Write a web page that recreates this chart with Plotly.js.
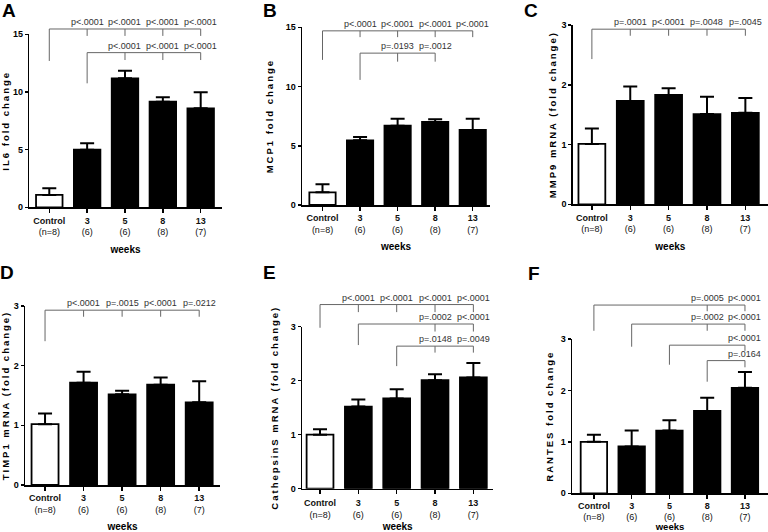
<!DOCTYPE html>
<html><head><meta charset="utf-8">
<script src="https://cdn.plot.ly/plotly-3.0.1.min.js"></script>
<style>
html,body{margin:0;padding:0;background:#fff}
#chart{width:768px;height:532px}
text[class^="y"][class$="title"]{letter-spacing:2px}
</style></head><body><div id="chart"></div><script>
// ---------- data ----------
const categories = ['Control', '3', '5', '8', '13'];
const groupN = ['(n=8)', '(6)', '(6)', '(8)', '(7)'];

const il6Mean = [1.07, 5.0, 11.18, 9.16, 8.58];
const il6Err  = [0.58, 0.55, 0.67, 0.38, 1.39];
const mcp1Mean = [1.07, 5.46, 6.70, 7.01, 6.34];
const mcp1Err  = [0.68, 0.29, 0.57, 0.23, 0.93];
const mmp9Mean = [1.01, 1.73, 1.83, 1.51, 1.53];
const mmp9Err  = [0.26, 0.24, 0.11, 0.29, 0.25];
const timp1Mean = [1.02, 1.715, 1.52, 1.68, 1.385];
const timp1Err  = [0.18, 0.185, 0.06, 0.12, 0.355];
const catsMean = [1.0, 1.52, 1.67, 2.01, 2.06];
const catsErr  = [0.10, 0.13, 0.17, 0.11, 0.27];
const rantesMean = [1.0, 0.91, 1.22, 1.60, 2.05];
const rantesErr  = [0.14, 0.31, 0.20, 0.26, 0.31];

const ticks15 = [0, 5, 10, 15];
const ticks3 = [0, 1, 2, 3];

// brackets: [from category, bracket level, left leg bottom, tick bottom, [[category, p-label], ...]]
const il6Brackets = [
  ['Control', 15.46, 12.69, 14.86, [['3','p<.0001'],['5','p<.0001'],['8','p<.0001'],['13','p<.0001']]],
  ['3', 13.41, 10.75, 12.77, [['5','p<.0001'],['8','p<.0001'],['13','p<.0001']]]
];
const mcp1Brackets = [
  ['Control', 14.7, 12.25, 14.17, [['3','p<.0001'],['5','p<.0001'],['8','p<.0001'],['13','p<.0001']]],
  ['3', 12.82, 10.56, 12.1, [['5','p=.0193'],['8','p=.0012']]]
];
const mmp9Brackets = [
  ['Control', 2.93, 2.43, 2.82, [['3','p=.0001'],['5','p<.0001'],['8','p=.0048'],['13','p=.0045']]]
];
const timp1Brackets = [
  ['Control', 2.93, 2.41, 2.82, [['3','p<.0001'],['5','p=.0015'],['8','p<.0001'],['13','p=.0212']]]
];
const catsBrackets = [
  ['Control', 3.41, 2.98, 3.27, [['3','p<.0001'],['5','p<.0001'],['8','p<.0001'],['13','p<.0001']]],
  ['3', 3.05, 2.66, 2.91, [['8','p=.0002'],['13','p<.0001']]],
  ['5', 2.64, 2.27, 2.52, [['8','p=.0148'],['13','p=.0049']]]
];
const rantesBrackets = [
  ['Control', 3.66, 3.16, 3.54, [['8','p=.0005'],['13','p<.0001']]],
  ['3', 3.29, 2.85, 3.16, [['8','p=.0002'],['13','p<.0001']]],
  ['5', 2.88, 2.50, 2.77, [['13','p<.0001']]],
  ['8', 2.58, 2.17, 2.45, [['13','p=.0164']]]
];

// ---------- layout geometry (pixels) ----------
const W = 768, H = 532;
const panels = [
  {letter:'A', title:'IL6 fold change', mean:il6Mean, err:il6Err, ticks:ticks15, brackets:il6Brackets,
   g:{axL:29.3, axR:221.7, y0:207.3, yT:34.3, top:26, xr:[-0.528,4.555], lx:8.5, ly:10, ys:1, xs:9, tls:1.5, wf:10}},
  {letter:'B', title:'MCP1 fold change', mean:mcp1Mean, err:mcp1Err, ticks:ticks15, brackets:mcp1Brackets,
   g:{axL:302, axR:490, y0:205, yT:27.3, top:24, xr:[-0.546,4.46], lx:269.5, ly:10, ys:10, xs:9, tls:1.5, wf:10}},
  {letter:'C', title:'MMP9 mRNA (fold change)', mean:mmp9Mean, err:mmp9Err, ticks:ticks3, brackets:mmp9Brackets,
   g:{axL:572.7, axR:768, y0:204.3, yT:25, top:22, xr:[-0.50,4.59], lx:531, ly:11, ys:3, xs:9, tls:1.5, wf:10}},
  {letter:'D', title:'TIMP1 mRNA (fold change)', mean:timp1Mean, err:timp1Err, ticks:ticks3, brackets:timp1Brackets,
   g:{axL:25, axR:220, y0:485, yT:306, top:296, xr:[-0.52,4.54], lx:7, ly:272.5, ys:7, xs:9, tls:1.5, wf:10}},
  {letter:'E', title:'CathepsinS mRNA (fold change)', mean:catsMean, err:catsErr, ticks:ticks3, brackets:catsBrackets,
   g:{axL:302, axR:493.3, y0:488.7, yT:326.7, top:296, xr:[-0.47,4.52], lx:269.5, ly:272.5, ys:10, xs:9, tls:1, wf:10}},
  {letter:'F', title:'RANTES fold change', mean:rantesMean, err:rantesErr, ticks:ticks3, brackets:rantesBrackets,
   g:{axL:572, axR:768, y0:493.3, yT:339, top:296, xr:[-0.58,4.61], lx:533.5, ly:273, ys:5, xs:9, tls:-1, wf:9.5}}
];

const FONT = 'Liberation Sans, Arial, sans-serif';
const traces = [];
const layout = {
  width: W, height: H,
  margin: {l:0, r:0, t:0, b:0},
  paper_bgcolor: '#fff', plot_bgcolor: 'rgba(0,0,0,0)',
  showlegend: false,
  font: {family: FONT, color: '#000', size: 9},
  annotations: []
};

const tickText = categories.map((c, i) => '<b>' + c + '</b><br>' + groupN[i]);

panels.forEach((p, i) => {
  const s = i === 0 ? '' : String(i + 1);
  const bs = String(i + 7);               // hidden axis that carries the brackets
  const xn = 'x' + s, yn = 'y' + s, bn = 'y' + bs;
  const g = p.g;
  const T = p.ticks[p.ticks.length - 1];
  const bTop = T * (g.y0 - g.top) / (g.y0 - g.yT);

  layout['xaxis' + s] = {
    domain: [g.axL / W, g.axR / W], anchor: yn, type: 'category',
    range: g.xr, showline: true, linecolor: '#000', linewidth: 1.5,
    ticks: 'outside', ticklen: 4, tickwidth: 1.5, tickcolor: '#000',
    tickvals: categories, ticktext: tickText, ticklabelstandoff: g.tls,
    tickfont: {size: 9, family: FONT, color: '#111'},
    showgrid: false, zeroline: false, fixedrange: true,
    title: {text: '<b>weeks</b>', font: {size: g.wf, family: FONT}, standoff: g.xs}
  };
  layout['yaxis' + s] = {
    domain: [1 - g.y0 / H, 1 - g.yT / H], anchor: xn,
    range: [0, T], showline: true, linecolor: '#000', linewidth: 1.5,
    ticks: 'outside', ticklen: 3, tickwidth: 1.5, tickcolor: '#000',
    tickvals: p.ticks, ticktext: p.ticks.map(v => '<b>' + v + '</b>'),
    tickfont: {size: 9, family: FONT},
    showgrid: false, zeroline: false, fixedrange: true,
    title: {text: '<b>' + p.title + '</b>', font: {size: 9.5, family: FONT}, standoff: g.ys}
  };
  layout['yaxis' + bs] = {
    domain: [1 - g.y0 / H, 1 - g.top / H], anchor: xn,
    range: [0, bTop], visible: false, showgrid: false, zeroline: false, fixedrange: true
  };

  traces.push({
    type: 'bar', x: categories, y: p.mean, xaxis: xn, yaxis: yn, width: 0.7,
    marker: {color: categories.map(c => c === 'Control' ? '#fff' : '#000'), line: {color: '#000', width: 1.8}},
    error_y: {type: 'data', symmetric: false, array: p.err, arrayminus: p.err.map(() => 0),
      color: '#000', thickness: 2, width: 7},
    hoverinfo: 'skip'
  });

  const bx = [], by = [];
  p.brackets.forEach(b => {
    const [from, level, legBottom, tickBottom, items] = b;
    const last = items[items.length - 1][0];
    bx.push(from, last, null); by.push(level, level, null);
    bx.push(from, from, null); by.push(legBottom, level, null);
    items.forEach(([c, lab]) => {
      bx.push(c, c, null); by.push(tickBottom, level, null);
      layout.annotations.push({xref: xn, yref: bn, x: categories.indexOf(c), y: level,
        text: lab, showarrow: false, xanchor: 'center', yanchor: 'bottom', yshift: 0,
        font: {size: 9, family: FONT, color: '#333'}});
    });
  });
  traces.push({type: 'scatter', mode: 'lines', x: bx, y: by, xaxis: xn, yaxis: bn,
    line: {color: '#666', width: 1}, connectgaps: false, hoverinfo: 'skip'});

  layout.annotations.push({xref: 'paper', yref: 'paper', x: g.lx / W, y: 1 - g.ly / H,
    text: '<b>' + p.letter + '</b>', showarrow: false, xanchor: 'center', yanchor: 'middle',
    font: {size: 19, family: FONT, color: '#000'}});
});

Plotly.newPlot('chart', traces, layout, {staticPlot: true, displayModeBar: false});
</script></body></html>
